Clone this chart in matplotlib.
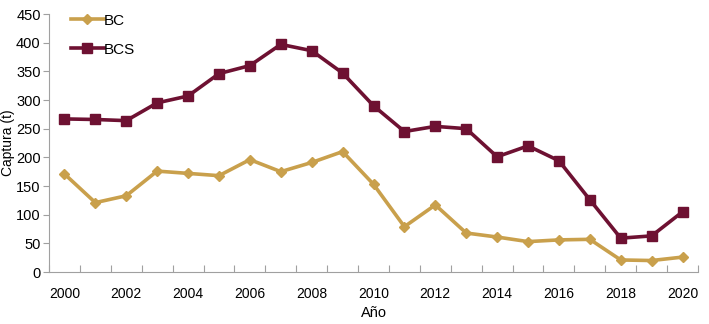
import matplotlib.pyplot as plt
import numpy as np

plt.rcParams["font.family"] = ["Liberation Sans", "DejaVu Sans"]

years = list(range(2000, 2021))
bc = [171, 121, 133, 176, 172, 168, 196, 175, 191, 210, 153, 79, 117, 68, 61, 53, 56, 57, 21, 20, 26]
bcs = [267, 266, 264, 295, 307, 346, 360, 397, 386, 347, 290, 245, 254, 250, 201, 220, 194, 126, 59, 63, 105]

gold = "#C9A04C"
maroon = "#6E1132"
axis_gray = "#A0A0A0"

fig = plt.figure(figsize=(7.09, 3.24), dpi=100)
ax = fig.add_axes([49 / 709, 1 - 272 / 324, (698 - 49) / 709, (272 - 14) / 324])

x = np.arange(len(years))
ax.plot(x, bc, color=gold, lw=2.6, marker="D", ms=5, label="BC")
ax.plot(x, bcs, color=maroon, lw=2.6, marker="s", ms=7.5, label="BCS")

ax.set_xlim(-0.5, len(years) - 0.5)
ax.set_ylim(0, 450)
ax.set_yticks(range(0, 451, 50))

# category axis: ticks sit between years, labels on every other year
ax.set_xticks(np.arange(-0.5, len(years), 1.0))
ax.set_xticklabels([])
ax.set_xticks(x[::2], minor=True)
ax.set_xticklabels([str(y) for y in years[::2]], minor=True)
ax.tick_params(axis="x", which="minor", length=0, pad=11)
ax.tick_params(axis="x", which="major", length=5, direction="in", color=axis_gray)
ax.tick_params(axis="y", length=4, direction="out", color=axis_gray, pad=2)
ax.tick_params(labelsize=10.5)

for side in ("top", "right"):
    ax.spines[side].set_visible(False)
for side in ("left", "bottom"):
    ax.spines[side].set_color(axis_gray)

ax.set_ylabel("Captura (t)", fontsize=10)
ax.yaxis.set_label_coords(-0.052, 0.5)
ax.set_xlabel("Año", fontsize=10.5)
ax.xaxis.set_label_coords(0.5, -0.13)

ax.legend(loc="upper left", bbox_to_anchor=(0.012, 1.055), frameon=False,
          fontsize=11, handlelength=2.2, handletextpad=0.0, labelspacing=1.0)

fig.savefig("out.png", dpi=100)
